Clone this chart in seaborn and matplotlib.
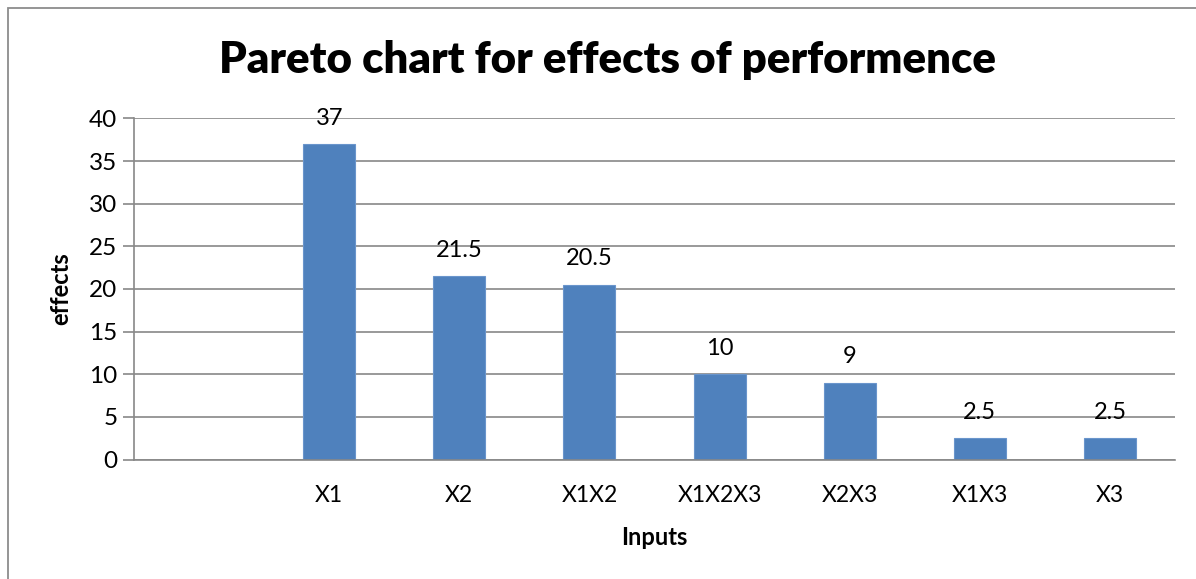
import matplotlib
matplotlib.use("Agg")
import matplotlib.pyplot as plt
import seaborn as sns
import pandas as pd
from matplotlib.patches import Rectangle

# Effect sizes per input, sorted for the Pareto view
inputs = ["X1", "X2", "X1X2", "X1X2X3", "X2X3", "X1X3", "X3"]
effects = [37, 21.5, 20.5, 10, 9, 2.5, 2.5]
value_labels = ["37", "21.5", "20.5", "10", "9", "2.5", "2.5"]
y_ticks = [0, 5, 10, 15, 20, 25, 30, 35, 40]

df = pd.DataFrame({"Inputs": inputs, "effects": effects})

sns.set_style("white")
plt.rcParams["font.family"] = ["Lato", "DejaVu Sans"]
plt.rcParams["text.color"] = "black"
plt.rcParams["axes.labelcolor"] = "black"
plt.rcParams["xtick.color"] = "black"
plt.rcParams["ytick.color"] = "black"

fig = plt.figure(figsize=(11.96, 5.79), dpi=100)
ax = fig.add_axes([134 / 1196, 1 - 459.5 / 579, (1175 - 134) / 1196, (459.5 - 118.5) / 579])

bar_color = "#4F81BD"
sns.barplot(data=df, x="Inputs", y="effects", order=inputs, color=bar_color,
            width=0.4, saturation=1, edgecolor="#6A95CC", linewidth=0.8, ax=ax, zorder=3)

# leading empty category slot on the left
ax.set_xlim(-1.5, len(inputs) - 0.5)
ax.set_ylim(0, 40)
ax.set_yticks(y_ticks)

grid_c = "#888888"
ax.yaxis.grid(True, color=grid_c, linewidth=1.2, zorder=0)
ax.xaxis.grid(False)
for side in ["top", "right"]:
    ax.spines[side].set_visible(False)
ax.spines["left"].set_color(grid_c)
ax.spines["left"].set_linewidth(1.2)
ax.spines["bottom"].set_color(grid_c)
ax.spines["bottom"].set_linewidth(1.2)
ax.spines["bottom"].set_zorder(4)

ax.tick_params(axis="y", length=8, width=1.2, color=grid_c, labelsize=17.5, pad=4,
               left=True, labelcolor="black")
ax.tick_params(axis="x", length=0, labelsize=16.5, pad=18, labelcolor="black")

for bar, lab in zip(ax.patches, value_labels):
    h = bar.get_height()
    ax.annotate(lab, (bar.get_x() + bar.get_width() / 2, h), xytext=(0, 11),
                textcoords="offset points", ha="center", va="bottom", fontsize=17,
                color="black", zorder=5, annotation_clip=False)

ax.set_xlabel("Inputs", fontsize=17, fontweight="bold", labelpad=15, color="black")
ax.set_ylabel("effects", fontsize=17, fontweight="bold", labelpad=12, color="black")

fig.text(607 / 1196, 1 - 60 / 579, "Pareto chart for effects of performence",
         ha="center", va="center", fontsize=31.5, fontweight="heavy", color="black")

# outer chart frame
fig.patches.append(Rectangle((8 / 1196, -0.1), 1.2, 1 - 7.5 / 579 + 0.1,
                             transform=fig.transFigure, fill=False,
                             edgecolor="#8C8C8C", linewidth=1.3))

fig.savefig("out.png", dpi=100)
